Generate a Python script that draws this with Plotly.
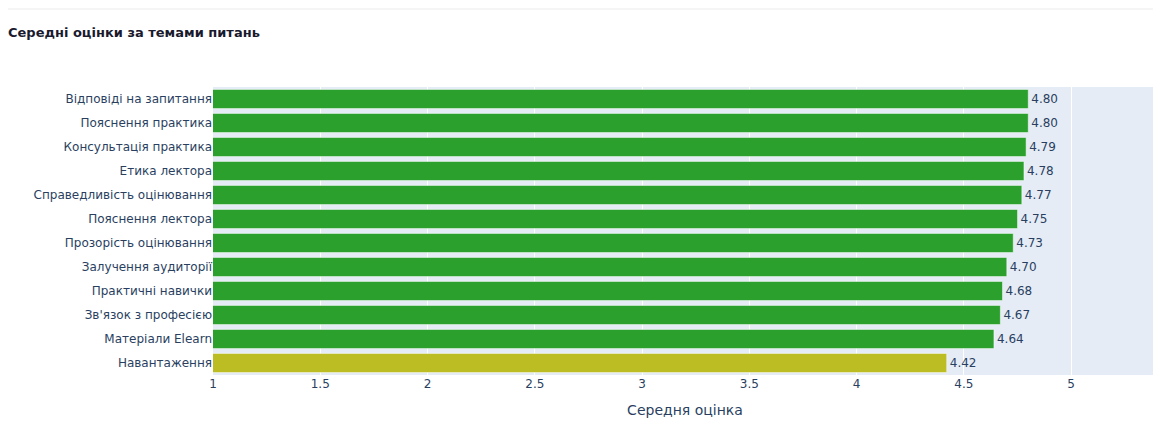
import plotly.graph_objects as go

topics = [
    "Відповіді на запитання",
    "Пояснення практика",
    "Консультація практика",
    "Етика лектора",
    "Справедливість оцінювання",
    "Пояснення лектора",
    "Прозорість оцінювання",
    "Залучення аудиторії",
    "Практичні навички",
    "Зв'язок з професією",
    "Матеріали Elearn",
    "Навантаження",
]
scores = [4.80, 4.80, 4.79, 4.78, 4.77, 4.75, 4.73, 4.70, 4.68, 4.67, 4.64, 4.42]
bar_colors = ["#2ca02c"] * 11 + ["#bcbd22"]
ticks = [1, 1.5, 2, 2.5, 3, 3.5, 4, 4.5, 5]

fig = go.Figure(go.Bar(
    x=scores,
    y=topics,
    orientation="h",
    marker=dict(color=bar_colors, line=dict(color="rgba(255,255,255,0.5)", width=1)),
    text=[f"{v:.2f}" for v in scores],
    textposition="outside",
    textfont=dict(size=12),
    cliponaxis=False,
))

# page puts the figure 8px in from the top-left, so margins are shifted to match
fig.update_layout(
    width=1161,
    height=426,
    margin=dict(l=205, r=12, t=79, b=59),
    font=dict(family="Verdana, DejaVu Sans, sans-serif", size=12, color="#2a3f5f"),
    title=dict(
        text="<b>Середні оцінки за темами питань</b>",
        x=0, xanchor="left", y=1 - 24 / 426, yanchor="middle",
        pad=dict(l=0, r=0, t=0, b=0),
        font=dict(size=13, color="#1a1a2e"),
    ),
    plot_bgcolor="#e5ecf6",
    paper_bgcolor="white",
    showlegend=False,
    xaxis=dict(
        range=[1, 5.4],
        tickvals=ticks,
        ticktext=[f"{t:g}" for t in ticks],
        gridcolor="white",
        title=dict(text="Середня оцінка", font=dict(size=14)),
        zeroline=False,
    ),
    yaxis=dict(autorange="reversed", showgrid=False),
)

# faint separator line at the top of the page
fig.add_shape(
    type="line", xref="paper", yref="paper",
    x0=-205 / 944, x1=1 + 12 / 944, y0=1 + 78 / 288, y1=1 + 78 / 288,
    line=dict(color="#ebebeb", width=1),
)

fig.write_html("out.html")
